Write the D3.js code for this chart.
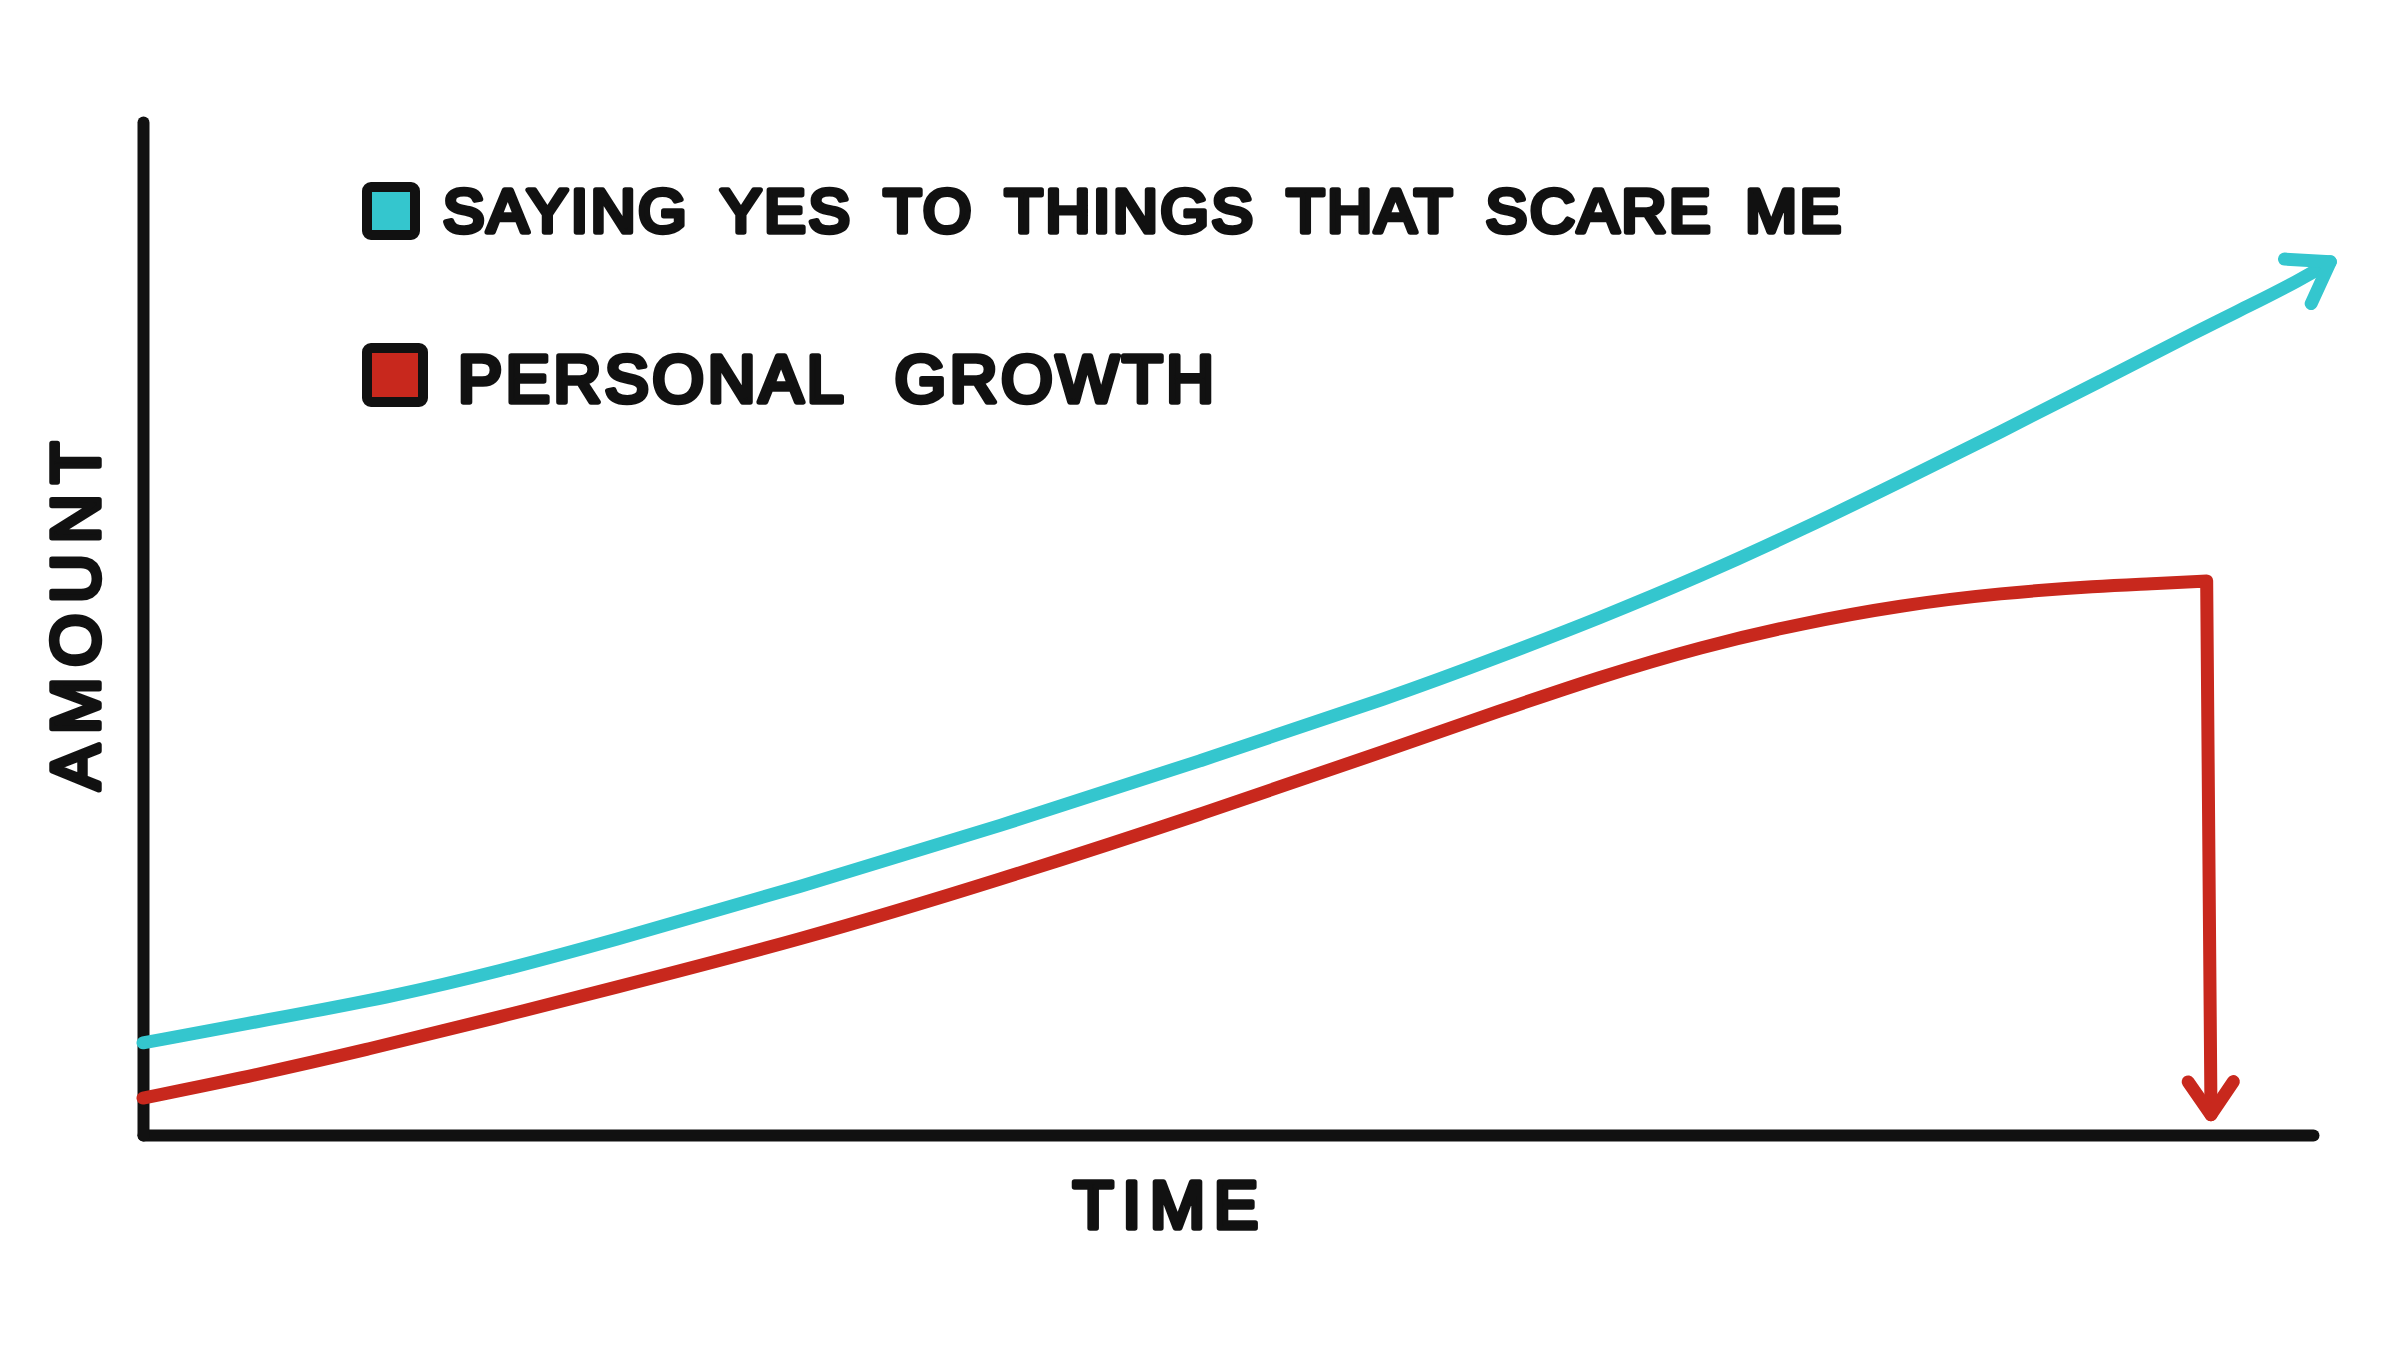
<!DOCTYPE html>
<html><head><meta charset="utf-8">
<script src="https://cdn.jsdelivr.net/npm/d3@7"></script>
<style>html,body{margin:0;padding:0;background:#fff;overflow:hidden}</style>
</head><body><svg id="c" width="2400" height="1350"></svg>
<script>
// ---- data ----
const seriesNames  = ["SAYING YES TO THINGS THAT SCARE ME", "PERSONAL GROWTH"];
const seriesColors = ["#34c6ce", "#c8281d"];
const xLabel = "TIME";
const yLabel = "AMOUNT";

const yesTime   = [0, 5.7, 11.8, 16.45, 21.1, 30.3, 39.5, 48.7, 57.9, 62.5, 67.1, 71.8, 76.4, 81.0, 85.6, 90.2, 94.8, 97.1, 99.4, 100.8];
const yesAmount = [9.1, 11.35, 13.8, 16.2, 18.85, 24.5, 30.5, 36.9, 43.5, 47.2, 51.0, 55.2, 59.7, 64.5, 69.4, 74.4, 79.5, 81.9, 84.4, 86.2];

const growthTime   = [0, 4.1, 10.3, 16.5, 21.1, 30.3, 39.5, 48.7, 57.9, 62.5, 67.1, 71.8, 76.4, 81.0, 85.6, 90.2, 92.5, 95.1, 95.3];
const growthAmount = [3.65, 5.4, 8.4, 11.7, 14.2, 19.25, 25.2, 31.6, 38.4, 41.85, 45.2, 48.2, 50.5, 52.3, 53.5, 54.2, 54.4, 54.7, 2.0];

// ---- chart ----
const svg = d3.select("#c");
svg.append("rect").attr("width", 2400).attr("height", 1350).attr("fill", "#fff");

const x = d3.scaleLinear().domain([0, 100]).range([143, 2313]);
const y = d3.scaleLinear().domain([0, 100]).range([1135, 122]);

const ink = "#111";
const FONT = "'Liberation Sans', Arial, sans-serif";

// axes
const gx = svg.append("g").attr("transform", `translate(0,${y(0)})`)
  .call(d3.axisBottom(x).tickValues([]).tickSizeOuter(0));
const gy = svg.append("g").attr("transform", `translate(${x(0)},0)`)
  .call(d3.axisLeft(y).tickValues([]).tickSizeOuter(0));
[gx, gy].forEach(g => g.select(".domain")
  .attr("stroke", ink).attr("stroke-width", 12).attr("fill", "none")
  .attr("stroke-linecap", "round").attr("stroke-linejoin", "round"));

// series
const series = [
  {color: seriesColors[0], pts: yesTime.map((t, i) => [t, yesAmount[i]]), head: 46, drop: false},
  {color: seriesColors[1], pts: growthTime.map((t, i) => [t, growthAmount[i]]), head: 40, drop: true}
];

const line = d3.line().x(d => x(d[0])).y(d => y(d[1])).curve(d3.curveBasis);

series.forEach(s => {
  const n = s.pts.length;
  const last = s.pts[n - 1];
  const d = s.drop
    ? line(s.pts.slice(0, -1)) + `L${x(last[0])},${y(last[1])}`
    : line(s.pts);
  svg.append("path").attr("d", d)
    .attr("fill", "none").attr("stroke", s.color).attr("stroke-width", 13)
    .attr("stroke-linecap", "round").attr("stroke-linejoin", "round");
  const p1 = [x(s.pts[n - 2][0]), y(s.pts[n - 2][1])];
  const p2 = [x(last[0]), y(last[1])];
  const ang = Math.atan2(p2[1] - p1[1], p2[0] - p1[0]) + Math.PI;
  const a1 = [p2[0] + s.head * Math.cos(ang + 0.6), p2[1] + s.head * Math.sin(ang + 0.6)];
  const a2 = [p2[0] + s.head * Math.cos(ang - 0.6), p2[1] + s.head * Math.sin(ang - 0.6)];
  svg.append("path").attr("d", `M${a1}L${p2}L${a2}`)
    .attr("fill", "none").attr("stroke", s.color).attr("stroke-width", 13)
    .attr("stroke-linecap", "round").attr("stroke-linejoin", "round");
});

// legend
const legend = [
  {x: 367, y: 187, w: 48, h: 48, tx: 443, ty: 232, len: 1398, fs: 62, ws: 12},
  {x: 367, y: 348, w: 56, h: 54, tx: 458, ty: 402, len: 756, fs: 66, ws: 28}
];
legend.forEach((L, i) => {
  svg.append("rect").attr("x", L.x).attr("y", L.y).attr("width", L.w).attr("height", L.h)
    .attr("rx", 4).attr("fill", seriesColors[i]).attr("stroke", ink).attr("stroke-width", 10)
    .attr("stroke-linejoin", "round");
  svg.append("text").attr("x", L.tx).attr("y", L.ty)
    .attr("textLength", L.len).attr("lengthAdjust", "spacing")
    .style("word-spacing", L.ws + "px")
    .attr("font-family", FONT).attr("font-size", L.fs)
    .attr("fill", ink).attr("stroke", ink).attr("stroke-width", 5.5)
    .attr("stroke-linejoin", "round").attr("stroke-linecap", "round")
    .text(seriesNames[i]);
});

// axis labels
svg.append("text").attr("x", 1073).attr("y", 1228)
  .attr("textLength", 185).attr("lengthAdjust", "spacing")
  .attr("font-family", FONT).attr("font-size", 66)
  .attr("fill", ink).attr("stroke", ink).attr("stroke-width", 5.5).attr("stroke-linejoin", "round")
  .text(xLabel);

svg.append("text").attr("transform", "translate(99,616) rotate(-90)")
  .attr("text-anchor", "middle").attr("x", 0).attr("y", 0)
  .attr("textLength", 348).attr("lengthAdjust", "spacing")
  .attr("font-family", FONT).attr("font-size", 68)
  .attr("fill", ink).attr("stroke", ink).attr("stroke-width", 5.5).attr("stroke-linejoin", "round")
  .text(yLabel);
</script></body></html>
